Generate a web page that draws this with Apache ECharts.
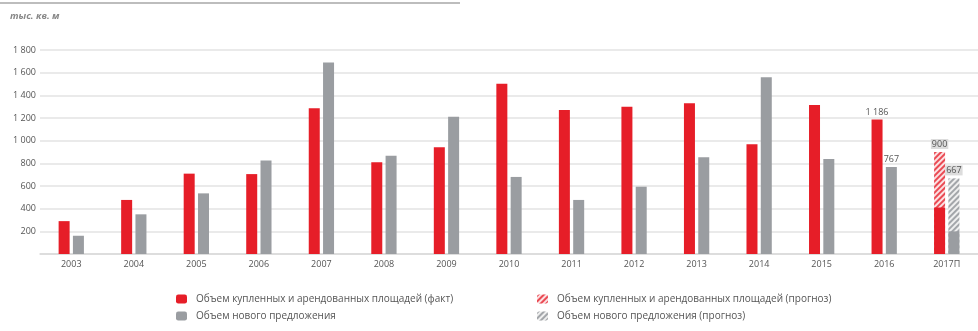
<!DOCTYPE html>
<html>
<head>
<meta charset="utf-8">
<script src="https://cdn.jsdelivr.net/npm/echarts@6/dist/echarts.min.js"></script>
<style>
  html, body { margin: 0; padding: 0; background: #fff; }
  #chart { width: 978px; height: 331px; }
</style>
</head>
<body>
<div id="chart"></div>
<script>
// Офисная недвижимость: спрос и новое предложение, тыс. кв. м
const categories = ['2003', '2004', '2005', '2006', '2007', '2008', '2009', '2010',
  '2011', '2012', '2013', '2014', '2015', '2016', '2017П'];

// факт (в 2017 — уже реализованная часть)
const absorbed = [290, 477, 709, 705, 1286, 809, 942, 1503, 1271, 1300, 1330, 968, 1315, 1186, 410];
const supply = [161, 350, 535, 824, 1689, 868, 1212, 680, 477, 594, 853, 1559, 838, 767, 200];

// прогноз на 2017 год
const absorbedForecast = [null, null, null, null, null, null, null, null, null, null, null, null, null, null, 900];
const supplyForecast = [null, null, null, null, null, null, null, null, null, null, null, null, null, null, 667];

// подписи значений над столбцами
const labelledFact = [13];

const yTicks = { min: 0, max: 1800, step: 200 };

const names = {
  absorbed: 'Объем купленных и арендованных площадей (факт)',
  supply: 'Объем нового предложения',
  absorbedForecast: 'Объем купленных и арендованных площадей (прогноз)',
  supplyForecast: 'Объем нового предложения (прогноз)'
};

const RED = '#e61e28';
const GREY = '#9a9da1';
const FONT = 'Open Sans';

const fmt = v => {
  const s = String(Math.round(v));
  return s.replace(/\B(?=(\d{3})+(?!\d))/g, ' ');
};

const valueLabel = {
  position: 'top',
  distance: 3,
  fontSize: 9,
  fontFamily: FONT,
  color: '#555',
  formatter: p => fmt(p.value)
};

function withLabels(values, idx) {
  return values.map((v, i) => ({ value: v, label: { show: idx.indexOf(i) >= 0 } }));
}

function hatch(stripe) {
  return {
    symbol: 'rect',
    symbolSize: 1,
    color: stripe,
    dashArrayX: [1, 0],
    dashArrayY: [2, 2],
    rotation: -Math.PI / 4
  };
}

const chart = echarts.init(document.getElementById('chart'), null, { renderer: 'canvas' });

const xAxisBase = {
  type: 'category',
  data: categories,
  gridIndex: 0
};

const legendText = { fontSize: 10, color: '#555', fontFamily: FONT, padding: [0, 0, 0, 4] };

chart.setOption({
  animation: false,
  textStyle: { fontFamily: FONT },
  aria: { enabled: true, decal: { show: false } },
  graphic: [
    {
      type: 'line',
      shape: { x1: 0, y1: 3, x2: 460, y2: 3 },
      style: { stroke: '#bdbdbd', lineWidth: 2 }
    },
    {
      type: 'text',
      left: 10,
      top: 11,
      style: {
        text: 'тыс. кв. м',
        fontSize: 9.5,
        fontStyle: 'italic',
        fontWeight: 'bold',
        fontFamily: FONT,
        fill: '#888'
      }
    }
  ],
  grid: { left: 40, top: 50, width: 940, height: 204 },
  legend: [
    {
      orient: 'vertical',
      left: 171,
      top: 289,
      itemWidth: 11,
      itemHeight: 9,
      itemGap: 7,
      textStyle: legendText,
      data: [names.absorbed, names.supply]
    },
    {
      orient: 'vertical',
      left: 532,
      top: 289,
      itemWidth: 11,
      itemHeight: 9,
      itemGap: 7,
      textStyle: legendText,
      data: [names.absorbedForecast, names.supplyForecast]
    }
  ],
  xAxis: [
    Object.assign({}, xAxisBase, {
      axisLine: { lineStyle: { color: '#d9d9d9', width: 1.5 } },
      axisTick: { show: false },
      axisLabel: { fontSize: 9, color: '#555', margin: 6, fontFamily: FONT }
    }),
    Object.assign({}, xAxisBase, { show: false })
  ],
  yAxis: {
    type: 'value',
    min: yTicks.min,
    max: yTicks.max,
    interval: yTicks.step,
    axisLine: { show: false },
    axisTick: { show: false },
    axisLabel: {
      fontSize: 9,
      color: '#555',
      margin: 4,
      fontFamily: FONT,
      formatter: v => (v === 0 ? '' : fmt(v))
    },
    splitLine: { lineStyle: { color: '#e3e3e3', width: 1.5 } }
  },
  series: [
    {
      name: names.absorbedForecast,
      type: 'bar',
      xAxisIndex: 1,
      barWidth: 11,
      barGap: '30%',
      z: 1,
      data: absorbedForecast,
      itemStyle: { color: '#fbe0e2', decal: hatch('#ea4a53') },
      label: Object.assign({ show: true, backgroundColor: '#dcdcdc', padding: [1, 1, 0, 1] }, valueLabel)
    },
    {
      name: names.supplyForecast,
      type: 'bar',
      xAxisIndex: 1,
      barWidth: 11,
      barGap: '30%',
      z: 1,
      data: supplyForecast,
      itemStyle: { color: '#efefef', decal: hatch('#a3a6aa') },
      label: Object.assign({ show: true, backgroundColor: '#dcdcdc', padding: [1, 1, 0, 1] }, valueLabel)
    },
    {
      name: names.absorbed,
      type: 'bar',
      xAxisIndex: 0,
      barWidth: 11,
      barGap: '30%',
      z: 2,
      data: withLabels(absorbed, labelledFact),
      itemStyle: { color: RED },
      label: valueLabel
    },
    {
      name: names.supply,
      type: 'bar',
      xAxisIndex: 0,
      barWidth: 11,
      barGap: '30%',
      z: 2,
      data: withLabels(supply, labelledFact),
      itemStyle: { color: GREY },
      label: valueLabel
    }
  ]
});
</script>
</body>
</html>
